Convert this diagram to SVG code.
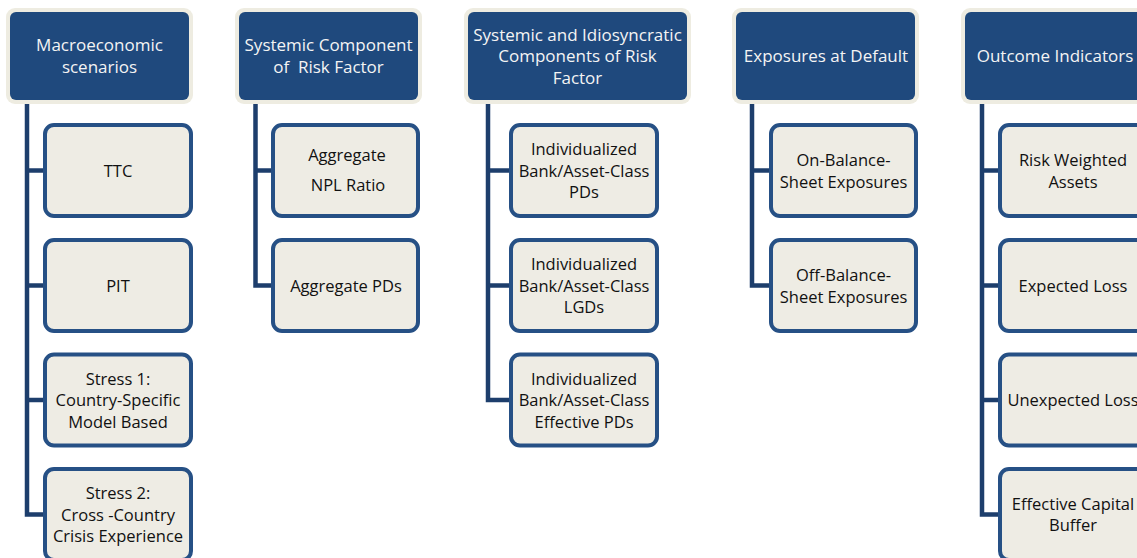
<svg xmlns="http://www.w3.org/2000/svg" width="1137" height="558" viewBox="0 0 1137 558">
<style>
.hc{fill:#eeece1}
.hb{fill:#1f497d}
.ch{fill:#eeece4;stroke:#265085;stroke-width:4}
.ht{font-family:"Open Sans","Liberation Sans",sans-serif;font-size:17px;fill:#f4f4f4;text-anchor:middle;white-space:pre}
.ct{font-family:"Open Sans","Liberation Sans",sans-serif;font-size:16.5px;fill:#111;text-anchor:middle;white-space:pre}
.cn{fill:none;stroke:#1d3e6c;stroke-width:4.5;stroke-linejoin:miter}
</style>
<rect width="1137" height="558" fill="#ffffff"/>
<g id="connectors">
<polyline class="cn" points="27,100 27,514.5 45,514.5"/>
<line class="cn" x1="27" y1="170.5" x2="45" y2="170.5"/>
<line class="cn" x1="27" y1="285.5" x2="45" y2="285.5"/>
<line class="cn" x1="27" y1="400" x2="45" y2="400"/>
<polyline class="cn" points="255.5,100 255.5,285.5 273,285.5"/>
<line class="cn" x1="255.5" y1="170.5" x2="273" y2="170.5"/>
<polyline class="cn" points="488,100 488,400 511,400"/>
<line class="cn" x1="488" y1="170.5" x2="511" y2="170.5"/>
<line class="cn" x1="488" y1="285.5" x2="511" y2="285.5"/>
<polyline class="cn" points="752,100 752,285.5 771,285.5"/>
<line class="cn" x1="752" y1="170.5" x2="771" y2="170.5"/>
<polyline class="cn" points="982,100 982,514.5 1000,514.5"/>
<line class="cn" x1="982" y1="170.5" x2="1000" y2="170.5"/>
<line class="cn" x1="982" y1="285.5" x2="1000" y2="285.5"/>
<line class="cn" x1="982" y1="400" x2="1000" y2="400"/>
</g>
<g id="h1">
<rect class="hc" x="6" y="8" width="187" height="96" rx="9"/>
<rect class="hb" x="10" y="12" width="179" height="88" rx="6"/>
<text class="ht" x="99.5" y="51">Macroeconomic</text>
<text class="ht" x="99.5" y="72.5">scenarios</text>
</g>
<g id="h2">
<rect class="hc" x="235" y="8" width="187" height="96" rx="9"/>
<rect class="hb" x="239" y="12" width="179" height="88" rx="6"/>
<text class="ht" x="328.5" y="51">Systemic Component</text>
<text class="ht" x="328.5" y="72.5">of  Risk Factor</text>
</g>
<g id="h3">
<rect class="hc" x="464" y="8" width="227" height="96" rx="9"/>
<rect class="hb" x="468" y="12" width="219" height="88" rx="6"/>
<text class="ht" x="577.5" y="40.5">Systemic and Idiosyncratic</text>
<text class="ht" x="577.5" y="62">Components of Risk</text>
<text class="ht" x="577.5" y="83.5">Factor</text>
</g>
<g id="h4">
<rect class="hc" x="732" y="8" width="187" height="96" rx="9"/>
<rect class="hb" x="736" y="12" width="179" height="88" rx="6"/>
<text class="ht" x="826" y="62">Exposures at Default</text>
</g>
<g id="h5">
<rect class="hc" x="961" y="8" width="188" height="96" rx="9"/>
<rect class="hb" x="965" y="12" width="180" height="88" rx="6"/>
<text class="ht" x="1055" y="62">Outcome Indicators</text>
</g>
<g id="c1a"><rect class="ch" x="45" y="125" width="146" height="91" rx="9"/><text class="ct" x="118" y="176.5">TTC</text></g>
<g id="c1b"><rect class="ch" x="45" y="240" width="146" height="91" rx="9"/><text class="ct" x="118" y="291.5">PIT</text></g>
<g id="c1c"><rect class="ch" x="45" y="354.5" width="146" height="91" rx="9"/><text class="ct" x="118" y="384.5">Stress 1:</text><text class="ct" x="118" y="406">Country-Specific</text><text class="ct" x="118" y="427.5">Model Based</text></g>
<g id="c1d"><rect class="ch" x="45" y="469" width="146" height="91" rx="9"/><text class="ct" x="118" y="499">Stress 2:</text><text class="ct" x="118" y="520.5">Cross -Country</text><text class="ct" x="118" y="542">Crisis Experience</text></g>
<g id="c2a"><rect class="ch" x="273" y="125" width="145" height="91" rx="9"/><text class="ct" x="347" y="161">Aggregate</text><text class="ct" x="348" y="191">NPL Ratio</text></g>
<g id="c2b"><rect class="ch" x="273" y="240" width="145" height="91" rx="9"/><text class="ct" x="346" y="291.5">Aggregate PDs</text></g>
<g id="c3a"><rect class="ch" x="511" y="125" width="146" height="91" rx="9"/><text class="ct" x="584" y="155">Individualized</text><text class="ct" x="584" y="176.5">Bank/Asset-Class</text><text class="ct" x="584" y="198">PDs</text></g>
<g id="c3b"><rect class="ch" x="511" y="240" width="146" height="91" rx="9"/><text class="ct" x="584" y="270">Individualized</text><text class="ct" x="584" y="291.5">Bank/Asset-Class</text><text class="ct" x="584" y="313">LGDs</text></g>
<g id="c3c"><rect class="ch" x="511" y="354.5" width="146" height="91" rx="9"/><text class="ct" x="584" y="384.5">Individualized</text><text class="ct" x="584" y="406">Bank/Asset-Class</text><text class="ct" x="584" y="427.5">Effective PDs</text></g>
<g id="c4a"><rect class="ch" x="771" y="125" width="145" height="91" rx="9"/><text class="ct" x="843.5" y="166">On-Balance-</text><text class="ct" x="843.5" y="187.5">Sheet Exposures</text></g>
<g id="c4b"><rect class="ch" x="771" y="240" width="145" height="91" rx="9"/><text class="ct" x="843.5" y="281">Off-Balance-</text><text class="ct" x="843.5" y="302.5">Sheet Exposures</text></g>
<g id="c5a"><rect class="ch" x="1000" y="125" width="146" height="91" rx="9"/><text class="ct" x="1073" y="166">Risk Weighted</text><text class="ct" x="1073" y="187.5">Assets</text></g>
<g id="c5b"><rect class="ch" x="1000" y="240" width="146" height="91" rx="9"/><text class="ct" x="1073" y="291.5">Expected Loss</text></g>
<g id="c5c"><rect class="ch" x="1000" y="354.5" width="146" height="91" rx="9"/><text class="ct" x="1073" y="406">Unexpected Loss</text></g>
<g id="c5d"><rect class="ch" x="1000" y="469" width="146" height="91" rx="9"/><text class="ct" x="1073" y="509.5">Effective Capital</text><text class="ct" x="1073" y="531">Buffer</text></g>
</svg>
